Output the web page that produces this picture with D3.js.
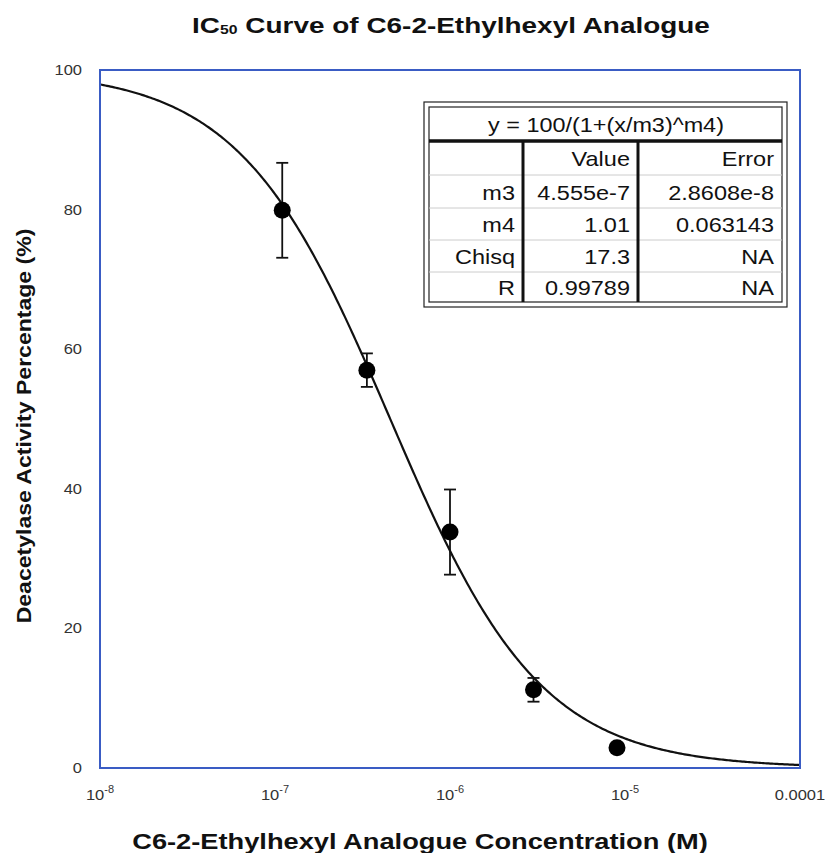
<!DOCTYPE html>
<html>
<head>
<meta charset="utf-8">
<script src="https://cdn.jsdelivr.net/npm/d3@7"></script>
<style>
  body { margin: 0; background: white; }
  text { font-family: "Liberation Sans", Arial, sans-serif; }
</style>
</head>
<body>
<div id="chart"></div>
<script>
// measured points (concentration M, activity %, error)
const concentrations = [1.1e-7, 3.35e-7, 1.0e-6, 3.0e-6, 9.0e-6]
const activities = [79.9, 57.0, 33.8, 11.2, 2.9]
const errors = [6.8, 2.4, 6.1, 1.7, 0]

// fit parameters
const m3 = 4.555e-7
const m4 = 1.01

const yTicks = [0, 20, 40, 60, 80, 100]
const xTicks = [1e-8, 1e-7, 1e-6, 1e-5, 1e-4]
const xTickExps = ["-8", "-7", "-6", "-5", null]

const tableTitle = "y = 100/(1+(x/m3)^m4)"
const tableHeader = ["", "Value", "Error"]
const tableRows = [
    ["m3", "4.555e-7", "2.8608e-8"],
    ["m4", "1.01", "0.063143"],
    ["Chisq", "17.3", "NA"],
    ["R", "0.99789", "NA"]
]

const WIDTH = 825
const HEIGHT = 853
const FRAME_COLOR = "#3a5cc4"
const TEXT_STRETCH = 1.12

const svg = d3.select("#chart").append("svg")
    .attr("width", WIDTH)
    .attr("height", HEIGHT)

const x = d3.scaleLog().domain([1e-8, 1e-4]).range([100, 800])
const y = d3.scaleLinear().domain([0, 100]).range([768, 70])

// the reference type is wider than Liberation Sans, so texts get a horizontal scale
function fitWidth(t, px, py, width, rotate) {
    let w = t.node().getBBox().width
    let s = width / w
    t.attr("transform", "translate(" + px + "," + py + ")" + (rotate ? " rotate(" + rotate + ")" : "") + " scale(" + s + ",1)")
}
function stretch(t, px, py, s) {
    t.attr("transform", "translate(" + px + "," + py + ") scale(" + s + ",1)")
}

// title
let title = svg.append("text")
    .attr("text-anchor", "middle")
    .attr("font-size", 23)
    .attr("font-weight", "bold")
    .attr("fill", "#111")
title.append("tspan").text("IC")
title.append("tspan").attr("font-size", 13).attr("dy", 1).text("50")
title.append("tspan").attr("dy", -1).text(" Curve of C6-2-Ethylhexyl Analogue")
fitWidth(title, 451, 33, 518)

// fitted curve
let curveX = d3.range(0, 401).map(i => Math.pow(10, -8 + i * 4 / 400))
let line = d3.line()
    .x(d => x(d))
    .y(d => y(100 / (1 + Math.pow(d / m3, m4))))
svg.append("path")
    .datum(curveX)
    .attr("d", line)
    .attr("fill", "none")
    .attr("stroke", "#111")
    .attr("stroke-width", 2.2)

// error bars
let pts = concentrations.map((c, i) => ({c: c, v: activities[i], e: errors[i]}))
let bars = svg.append("g").selectAll("g").data(pts.filter(d => d.e > 0)).join("g")
    .attr("stroke", "#111")
    .attr("stroke-width", 1.8)
bars.append("line")
    .attr("x1", d => x(d.c)).attr("x2", d => x(d.c))
    .attr("y1", d => y(d.v + d.e)).attr("y2", d => y(d.v - d.e))
bars.append("line")
    .attr("x1", d => x(d.c) - 6).attr("x2", d => x(d.c) + 6)
    .attr("y1", d => y(d.v + d.e)).attr("y2", d => y(d.v + d.e))
bars.append("line")
    .attr("x1", d => x(d.c) - 6).attr("x2", d => x(d.c) + 6)
    .attr("y1", d => y(d.v - d.e)).attr("y2", d => y(d.v - d.e))

svg.append("g").selectAll("circle").data(pts).join("circle")
    .attr("cx", d => x(d.c))
    .attr("cy", d => y(d.v))
    .attr("r", 8.5)
    .attr("fill", "#000")

// frame
svg.append("rect")
    .attr("x", 100).attr("y", 70)
    .attr("width", 700).attr("height", 698)
    .attr("fill", "none")
    .attr("stroke", FRAME_COLOR)
    .attr("stroke-width", 2)

// y tick labels
svg.append("g").selectAll("text").data(yTicks).join("text")
    .attr("text-anchor", "end")
    .attr("font-size", 15)
    .attr("fill", "#333")
    .text(d => d)
    .each(function(d) { stretch(d3.select(this), 82, y(d) + 5, 1.1) })

// x tick labels
let xt = svg.append("g").selectAll("text").data(xTicks).join("text")
    .attr("text-anchor", "middle")
    .attr("font-size", 15)
    .attr("fill", "#333")
xt.each(function(d, i) {
    let t = d3.select(this)
    if (xTickExps[i] === null) {
        t.text("0.0001")
    } else {
        t.append("tspan").text("10")
        t.append("tspan").attr("font-size", 10).attr("dy", -7).text(xTickExps[i])
    }
    stretch(t, x(d), 800, 1.1)
})

// axis titles
let xTitle = svg.append("text")
    .attr("text-anchor", "middle")
    .attr("font-size", 22)
    .attr("font-weight", "bold")
    .attr("fill", "#111")
    .text("C6-2-Ethylhexyl Analogue Concentration (M)")
fitWidth(xTitle, 420, 849, 576)

let yTitle = svg.append("text")
    .attr("text-anchor", "middle")
    .attr("font-size", 20)
    .attr("font-weight", "bold")
    .attr("fill", "#111")
    .text("Deacetylase Activity Percentage (%)")
fitWidth(yTitle, 31, 426, 395, -90)

// parameter table
const T = {x0: 424, x1: 787, y0: 102, y1: 307}
const colEdges = [429, 523, 638, 782]
const rowEdges = [107, 141, 175, 208, 240, 272, 302]
let tbl = svg.append("g")
tbl.append("rect")
    .attr("x", T.x0).attr("y", T.y0)
    .attr("width", T.x1 - T.x0).attr("height", T.y1 - T.y0)
    .attr("fill", "white").attr("stroke", "#222").attr("stroke-width", 1.2)
tbl.append("rect")
    .attr("x", colEdges[0]).attr("y", rowEdges[0])
    .attr("width", colEdges[3] - colEdges[0]).attr("height", rowEdges[6] - rowEdges[0])
    .attr("fill", "none").attr("stroke", "#222").attr("stroke-width", 1.2)
// thin row separators
for (let r = 2; r < rowEdges.length - 1; r++) {
    tbl.append("line")
        .attr("x1", colEdges[0]).attr("x2", colEdges[3])
        .attr("y1", rowEdges[r]).attr("y2", rowEdges[r])
        .attr("stroke", "#ccc").attr("stroke-width", 1)
}
// thick line under title and column separators
tbl.append("line")
    .attr("x1", colEdges[0]).attr("x2", colEdges[3])
    .attr("y1", rowEdges[1]).attr("y2", rowEdges[1])
    .attr("stroke", "#111").attr("stroke-width", 3.5)
for (let c = 1; c <= 2; c++) {
    tbl.append("line")
        .attr("x1", colEdges[c]).attr("x2", colEdges[c])
        .attr("y1", rowEdges[1]).attr("y2", rowEdges[6])
        .attr("stroke", "#111").attr("stroke-width", 3)
}
let tt = tbl.append("text")
    .attr("text-anchor", "middle")
    .attr("font-size", 21)
    .attr("fill", "#111")
    .text(tableTitle)
fitWidth(tt, 606, 132, 236)
let allRows = [tableHeader].concat(tableRows)
allRows.forEach((row, r) => {
    row.forEach((cell, c) => {
        let t = tbl.append("text")
            .attr("text-anchor", "end")
            .attr("font-size", 21)
            .attr("fill", "#111")
            .text(cell)
        stretch(t, colEdges[c + 1] - 8, (rowEdges[r + 1] + rowEdges[r + 2]) / 2 + 8, TEXT_STRETCH)
    })
})
</script>
</body>
</html>
